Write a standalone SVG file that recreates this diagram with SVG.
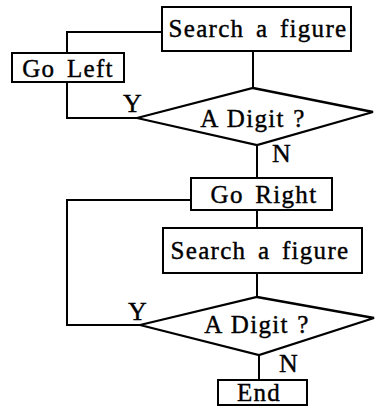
<svg xmlns="http://www.w3.org/2000/svg" width="375" height="407" viewBox="0 0 375 407">
<style>
.box{fill:#fff;stroke:#000;stroke-width:2}
.dia{fill:#fff;stroke:#000;stroke-width:2.3;stroke-linejoin:miter}
.ln{fill:none;stroke:#000;stroke-width:2}
text{font-family:"Liberation Serif","Times New Roman",serif;font-size:25px;fill:#000;stroke:#000;stroke-width:0.4;text-anchor:middle;letter-spacing:1.3px;word-spacing:4px}
.lbl{font-size:26px;text-anchor:start;letter-spacing:0}
</style>
<rect width="375" height="407" fill="#fff"/>
<g id="connectors">
<polyline class="ln" points="162,32 67,32 67,53"/>
<polyline class="ln" points="67,82 67,118 137,118"/>
<line class="ln" x1="253" y1="51" x2="253" y2="88"/>
<line class="ln" x1="257" y1="145" x2="257" y2="178"/>
<polyline class="ln" points="191,200 67,200 67,325 140,325"/>
<line class="ln" x1="257" y1="210" x2="257" y2="228"/>
<line class="ln" x1="257" y1="273" x2="257" y2="297"/>
<line class="ln" x1="259" y1="355" x2="259" y2="380"/>
<text class="lbl" x="123" y="112">Y</text>
<text class="lbl" x="272" y="162">N</text>
<text class="lbl" x="128" y="320">Y</text>
<text class="lbl" x="279" y="372">N</text>
</g>
<g id="search1">
<rect class="box" x="162" y="7" width="189" height="44"/>
<text x="258" y="37">Search a figure</text>
</g>
<g id="goleft">
<rect class="box" x="12" y="53" width="112" height="29"/>
<text x="68" y="77">Go Left</text>
</g>
<g id="digit1">
<polygon class="dia" points="253,88 373,112 257,145 137,118"/>
<text x="253" y="127" style="word-spacing:1px">A Digit ?</text>
</g>
<g id="goright">
<rect class="box" x="191" y="178" width="141" height="32"/>
<text x="264" y="203">Go Right</text>
</g>
<g id="search2">
<rect class="box" x="163" y="228" width="199" height="45"/>
<text x="260" y="259">Search a figure</text>
</g>
<g id="digit2">
<polygon class="dia" points="257,297 374,318 259,355 140,325"/>
<text x="257" y="333" style="word-spacing:1px">A Digit ?</text>
</g>
<g id="end">
<rect class="box" x="218" y="380" width="89" height="25"/>
<text x="259" y="401">End</text>
</g>
</svg>
